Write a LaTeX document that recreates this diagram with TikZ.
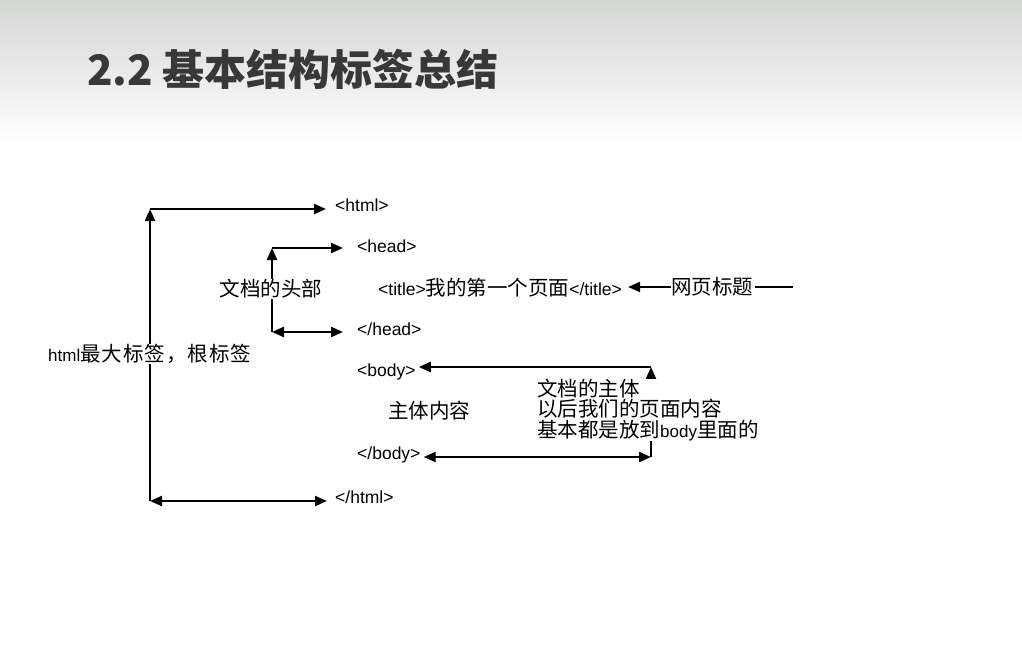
\documentclass[tikz,border=0pt]{standalone}
\usepackage{fontspec}
\setmainfont{Liberation Sans}
\newfontfamily\cjk{Noto Sans CJK SC}
\newfontfamily\cjkwide[LetterSpace=5]{Noto Sans CJK SC}
\usetikzlibrary{arrows.meta}
\definecolor{topgray}{HTML}{D4D6D4}
\definecolor{titlegray}{HTML}{383838}
\newcommand\zh[1]{{\cjk\fontsize{20.5}{22}\selectfont #1}}
\newcommand\lat[1]{{\rmfamily\fontsize{17}{19}\selectfont #1}}
\tikzset{
  tag/.style={anchor=west, inner sep=0pt, font=\fontsize{17.5}{20}\selectfont},
  lbl/.style={inner sep=1pt, fill=white, font=\cjk\fontsize{20.5}{22}\selectfont},
  ln/.style={line width=2.2pt, black},
  arr/.style={ln, -{Triangle[length=12pt,width=10pt]}},
  darr/.style={ln, {Triangle[length=12pt,width=10pt]}-{Triangle[length=12pt,width=10pt]}}
}
\begin{document}
\begin{tikzpicture}[x=1pt,y=-1pt]
\useasboundingbox (0,0) rectangle (1022,651);
\fill[white] (0,0) rectangle (1022,651);
\shade[top color=topgray, bottom color=white] (0,0) rectangle (1022,145);
\node[anchor=base west, inner sep=0pt, text=titlegray, font=\cjk\bfseries\fontsize{42}{46}\selectfont] (ttl) at (87,85) {2.2 基本结构标签总结};

% tags
\node[tag] (html) at (335,205) {<html>};
\node[tag] (head) at (357,246) {<head>};
\node[tag] (title) at (378,288) {<title>\zh{我的第一个页面}</title>};
\node[tag] (headend) at (357,329) {</head>};
\node[tag] (body) at (357,372) {<body>};
\node[tag] (bodyend) at (357,455) {</body>};
\node[tag] (htmlend) at (335,497) {</html>};

% bracket coordinates
\coordinate (hT) at (150,209);
\coordinate (hB) at (150,501);
\coordinate (dT) at (272,248);
\coordinate (dB) at (272,332);
\coordinate (bT) at (651,367);
\coordinate (bB) at (651,457);
\coordinate (tailend) at (793,287);

% html bracket
\draw[arr] (hB) -- (hT);
\draw[arr] (hT) -- ([xshift=-9pt]hT -| html.west);
\draw[darr] (hB) -- ([xshift=-8pt]hB -| htmlend.west);
% head bracket
\draw[arr] (dB) -- (dT);
\draw[arr] (dT) -- ([xshift=-14pt]dT -| head.west);
\draw[darr] (dB) -- ([xshift=-14pt]dB -| headend.west);
% body bracket
\draw[arr] (bB) -- (bT);
\draw[arr] (bT) -- ([xshift=3pt]bT -| body.east);
\draw[darr] ([xshift=3pt]bB -| bodyend.east) -- (bB);

% labels
\node[lbl, anchor=west, inner sep=0pt, font=\cjkwide\fontsize{20.5}{22}\selectfont] (root) at (48,354) {\lat{html}最大标签，根标签};
\node[lbl] (headlbl) at (271,289) {文档的头部};
\node[lbl, anchor=west, fill=none] (content) at (387,411) {主体内容};
\node[lbl, anchor=west, align=left, inner sep=0pt, font=\cjk\fontsize{20.5}{20.5}\selectfont] (bodylbl) at (537,410) {文档的主体\\以后我们的页面内容\\基本都是放到\lat{body}里面的};
\node[lbl, anchor=west, inner sep=0pt, fill=none] (webtitle) at (671,287) {网页标题};

\draw[arr] (webtitle.west) -- ([xshift=6pt]webtitle.west -| title.east);
\draw[ln, line width=1.5pt] ([xshift=2pt]webtitle.east) -- (tailend);
\end{tikzpicture}
\end{document}
